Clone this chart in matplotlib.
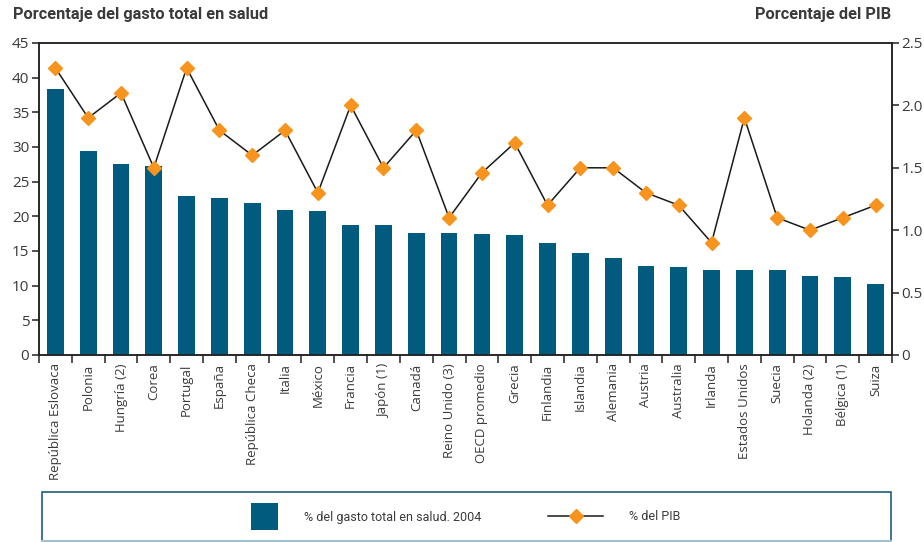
import matplotlib
matplotlib.use("Agg")
import matplotlib.pyplot as plt
from matplotlib.patches import Rectangle
from matplotlib.lines import Line2D
from matplotlib.ticker import FixedLocator, FuncFormatter

countries = ["República Eslovaca", "Polonia", "Hungría (2)", "Corea", "Portugal",
             "España", "República Checa", "Italia", "México", "Francia",
             "Japón (1)", "Canadá", "Reino Unido (3)", "OECD promedio", "Grecia",
             "Finlandia", "Islandia", "Alemania", "Austria", "Australia",
             "Irlanda", "Estados Unidos", "Suecia", "Holanda (2)", "Bélgica (1)",
             "Suiza"]

gasto_salud = [38.4, 29.4, 27.5, 27.3, 22.9, 22.6, 21.9, 20.9, 20.8, 18.75,
               18.75, 17.6, 17.6, 17.45, 17.3, 16.15, 14.7, 14.0, 12.8, 12.7,
               12.25, 12.25, 12.25, 11.4, 11.25, 10.25]

pib = [2.3, 1.9, 2.1, 1.5, 2.3, 1.8, 1.6, 1.8, 1.3, 2.0,
       1.5, 1.8, 1.1, 1.46, 1.7, 1.2, 1.5, 1.5, 1.3, 1.2,
       0.9, 1.9, 1.1, 1.0, 1.1, 1.2]

left_ticks = [0, 5, 10, 15, 20, 25, 30, 35, 40, 45]
right_ticks = [0, 0.5, 1.0, 1.5, 2.0, 2.5]

BAR = "#005B7F"
ORANGE = "#F7941E"
TEXT = "#3a3a3a"
AXC = "#222222"

plt.rcParams["font.family"] = ["Open Sans", "DejaVu Sans"]
NARROW = ["Roboto", "DejaVu Sans"]

fig = plt.figure(figsize=(9.24, 5.42), dpi=100)
ax = fig.add_axes([39 / 924, 1 - 355 / 542, (892 - 39) / 924, (355 - 43) / 542])
ax2 = ax.twinx()

x = list(range(len(countries)))
ax.bar(x, gasto_salud, width=0.51, color=BAR, zorder=2)
ax2.plot(x, pib, color="#1a1a1a", lw=1.1, marker="D", markersize=7.5,
         markerfacecolor=ORANGE, markeredgecolor=ORANGE, zorder=3)

ax.set_xlim(-0.5, len(countries) - 0.5)
ax.set_ylim(0, 45)
ax2.set_ylim(0, 2.5)

ax.set_yticks(left_ticks)
ax2.set_yticks(right_ticks)
ax2.yaxis.set_major_formatter(FuncFormatter(lambda v, p: "0" if v == 0 else f"{v:.1f}"))

ax.set_xticks(x)
ax.set_xticklabels(countries, rotation=90, fontsize=9.5, color=TEXT)
ax.xaxis.set_minor_locator(FixedLocator([i - 0.5 for i in range(len(countries) + 1)]))
ax.tick_params(axis="x", which="major", length=0, pad=6)
ax.tick_params(axis="x", which="minor", length=6, width=1.1, color=AXC)
ax.tick_params(axis="y", length=5, width=1.1, color=AXC, labelsize=11, labelcolor=TEXT, pad=2)
ax2.tick_params(axis="y", length=5, width=1.1, color=AXC, labelsize=11, labelcolor=TEXT, pad=2)

for a in (ax, ax2):
    for s in a.spines.values():
        s.set_color(AXC)
        s.set_linewidth(1.1)

fig.text(13 / 924, 1 - 15 / 542, "Porcentaje del gasto total en salud", family=NARROW,
         fontweight="bold", fontsize=11.8, color=TEXT, ha="left", va="center")
fig.text(891 / 924, 1 - 15 / 542, "Porcentaje del PIB", family=NARROW,
         fontweight="bold", fontsize=11.8, color=TEXT, ha="right", va="center")

# legend panel
W, H = 924, 542
fig.add_artist(Rectangle((41.5 / W, 0.0), (891 - 41.5) / W, (H - 491.5) / H,
                         transform=fig.transFigure, facecolor="none",
                         edgecolor="#1f5d78", lw=1.2))
fig.add_artist(Line2D([41.5 / W, 891 / W], [1 / H, 1 / H], transform=fig.transFigure,
                      color="#9fc4d1", lw=1.5))
fig.add_artist(Rectangle((251 / W, 1 - 530 / H), 27 / W, 27 / H,
                         transform=fig.transFigure, facecolor=BAR, edgecolor="none"))
fig.text(304 / W, 1 - 517 / H, "% del gasto total en salud. 2004", family=NARROW,
         fontsize=9, color=TEXT, ha="left", va="center")
fig.add_artist(Line2D([548 / W, 603 / W], [1 - 516 / H, 1 - 516 / H],
                      transform=fig.transFigure, color="#1a1a1a", lw=1.1))
fig.add_artist(Line2D([575.5 / W], [1 - 516 / H], transform=fig.transFigure,
                      marker="D", markersize=7.5, color=ORANGE, lw=0))
fig.text(629 / W, 1 - 517 / H, "% del PIB", family=NARROW,
         fontsize=9, color=TEXT, ha="left", va="center")

fig.savefig("out.png", dpi=100)
